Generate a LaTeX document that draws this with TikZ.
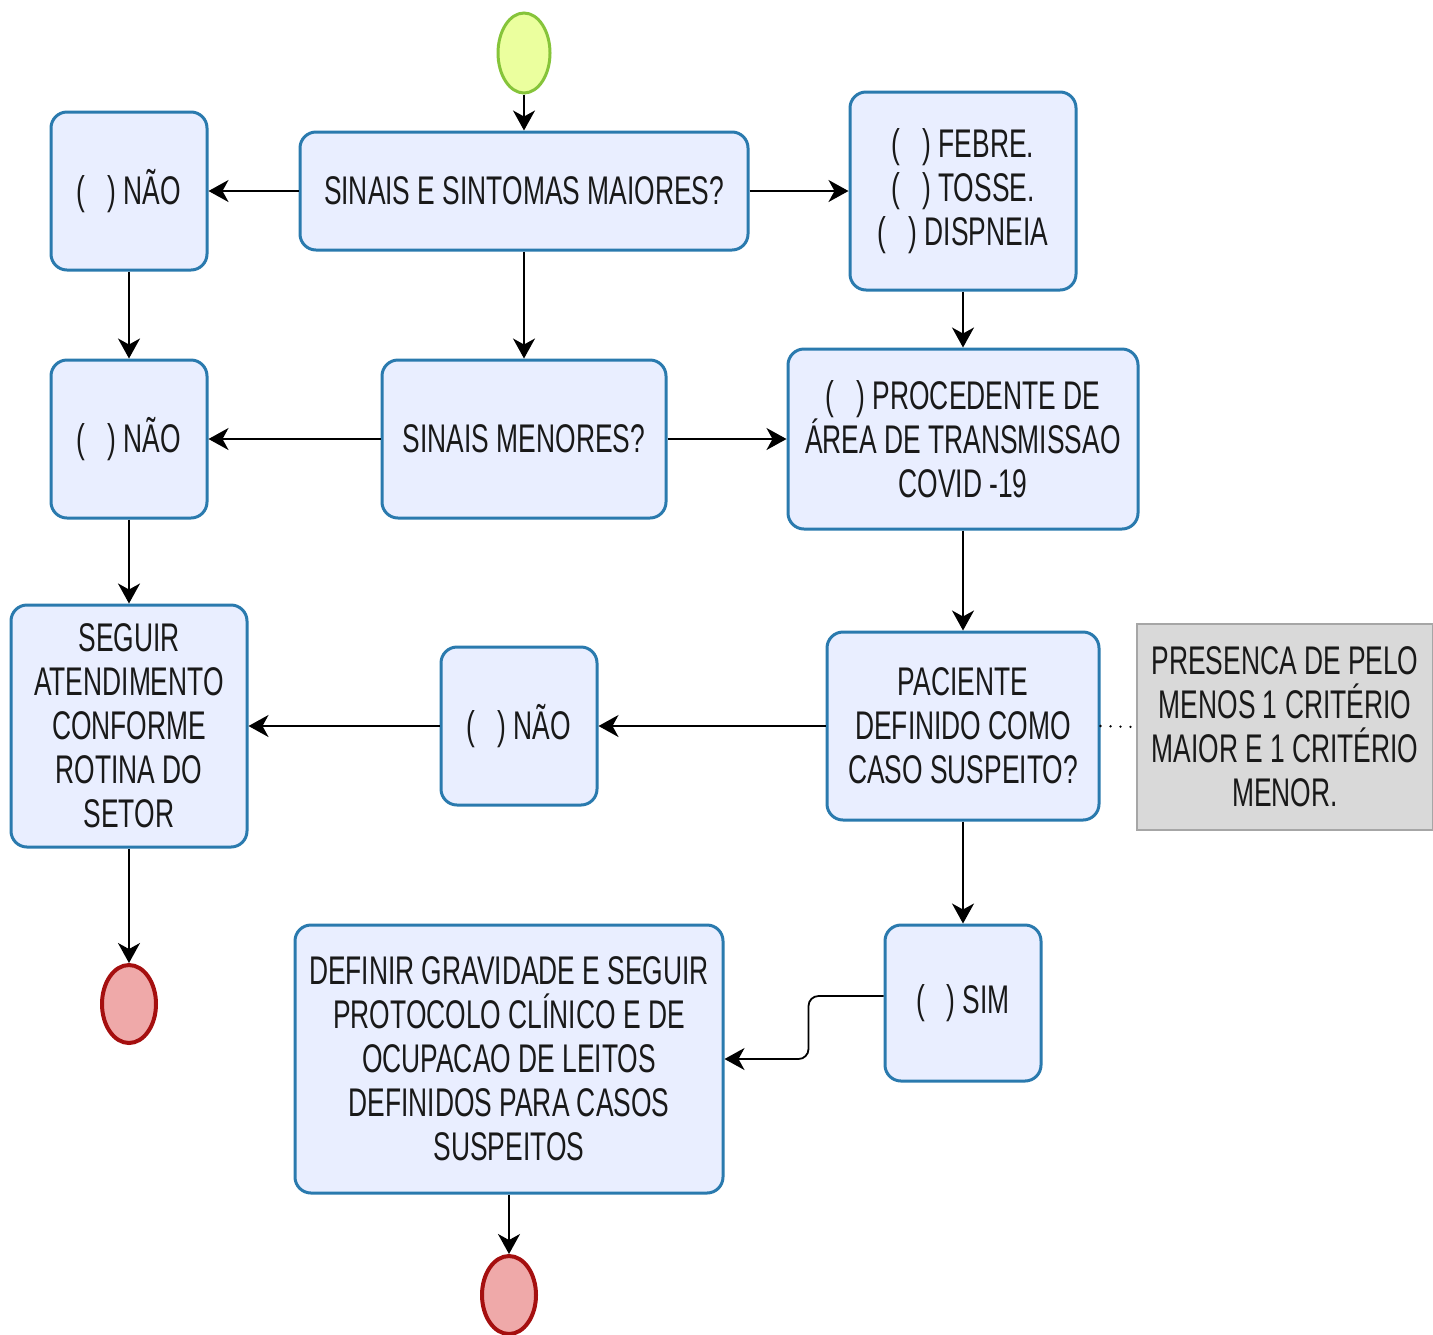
\documentclass[tikz,border=0pt]{standalone}
\usepackage{fontspec}
\setmainfont[FakeStretch=0.66]{Liberation Sans}
\usetikzlibrary{shapes.geometric,arrows.meta}

\definecolor{borda}{HTML}{2A7AAE}
\definecolor{fundo}{HTML}{E9EEFF}
\definecolor{verde}{HTML}{EBFF9E}
\definecolor{verdeb}{HTML}{86C43A}
\definecolor{rosa}{HTML}{EFA9A9}
\definecolor{vermelho}{HTML}{A50F0F}
\definecolor{cinza}{HTML}{D9D9D9}

\tikzset{
  caixa/.style={draw=borda, fill=fundo, line width=1.5pt, rounded corners=8pt,
    align=center, inner sep=0pt, text=black!90,
    font=\fontsize{20}{22}\selectfont},
  inicio/.style={ellipse, draw=verdeb, fill=verde, line width=1.5pt, inner sep=0pt,
    minimum width=26pt, minimum height=40pt},
  fim/.style={ellipse, draw=vermelho, fill=rosa, line width=2pt, inner sep=0pt,
    minimum width=27pt, minimum height=39pt},
  nota/.style={draw=black!35, fill=cinza, line width=0.6pt, align=center, inner sep=0pt,
    text=black!90, font=\fontsize{20}{22}\selectfont},
  seta/.style={-{Stealth[length=10pt,width=11pt,inset=3pt]}, line width=0.9pt}
}

\begin{document}
\begin{tikzpicture}[x=0.5pt, y=-0.5pt]
\useasboundingbox (0,0) rectangle (1433,1334);

% Knoten
\node[inicio] (inicio) at (524,53) {};
\node[caixa, minimum width=224pt, minimum height=59pt] (maiores) at (524,191) {SINAIS E SINTOMAS MAIORES?};
\node[caixa, minimum width=78pt, minimum height=79pt] (nao1) at (129,191) {(\ \ \ ) NÃO};
\node[caixa, minimum width=113pt, minimum height=99pt] (sintomas) at (963,191) {(\ \ \ ) FEBRE.\\(\ \ \ ) TOSSE.\\(\ \ \ ) DISPNEIA};
\node[caixa, minimum width=78pt, minimum height=79pt] (nao2) at (129,439) {(\ \ \ ) NÃO};
\node[caixa, minimum width=142pt, minimum height=79pt] (menores) at (524,439) {SINAIS MENORES?};
\node[caixa, minimum width=175pt, minimum height=90pt] (procedente) at (963,439) {(\ \ \ ) PROCEDENTE DE\\ÁREA DE TRANSMISSAO\\COVID -19};
\node[caixa, minimum width=118pt, minimum height=121pt] (seguir) at (129,726) {SEGUIR\\ATENDIMENTO\\CONFORME\\ROTINA DO\\SETOR};
\node[caixa, minimum width=78pt, minimum height=79pt] (nao3) at (519,726) {(\ \ \ ) NÃO};
\node[caixa, minimum width=136pt, minimum height=94pt] (paciente) at (963,726) {PACIENTE\\DEFINIDO COMO\\CASO SUSPEITO?};
\node[nota, minimum width=148pt, minimum height=103pt] (criterio) at (1285,727) {PRESENCA DE PELO\\MENOS 1 CRITÉRIO\\MAIOR E 1 CRITÉRIO\\MENOR.};
\node[caixa, minimum width=78pt, minimum height=78pt] (sim) at (963,1003) {(\ \ \ ) SIM};
\node[caixa, minimum width=214pt, minimum height=134pt] (definir) at (509,1059) {DEFINIR GRAVIDADE E SEGUIR\\PROTOCOLO CLÍNICO E DE\\OCUPACAO DE LEITOS\\DEFINIDOS PARA CASOS\\SUSPEITOS};
\node[fim] (fim1) at (129,1004) {};
\node[fim] (fim2) at (509,1295) {};

% Verbindungen
\draw[seta] (inicio) -- (maiores);
\draw[seta] (maiores) -- (nao1);
\draw[seta] (maiores) -- (sintomas);
\draw[seta] (maiores) -- (menores);
\draw[seta] (nao1) -- (nao2);
\draw[seta] (sintomas) -- (procedente);
\draw[seta] (menores) -- (nao2);
\draw[seta] (menores) -- (procedente);
\draw[seta] (nao2) -- (seguir);
\draw[seta] (procedente) -- (paciente);
\draw[seta] (paciente) -- (nao3);
\draw[seta] (nao3) -- (seguir);
\draw[line width=1.3pt, line cap=round, dash pattern=on 0pt off 5pt] (paciente.east) -- (criterio.west);
\draw[seta] (paciente) -- (sim);
\draw[seta, rounded corners=5pt] ([yshift=3.5pt]sim.west) -- ++(-75,0) |- (definir.east);
\draw[seta] (seguir) -- (fim1);
\draw[seta] (definir) -- (fim2);
\end{tikzpicture}
\end{document}
